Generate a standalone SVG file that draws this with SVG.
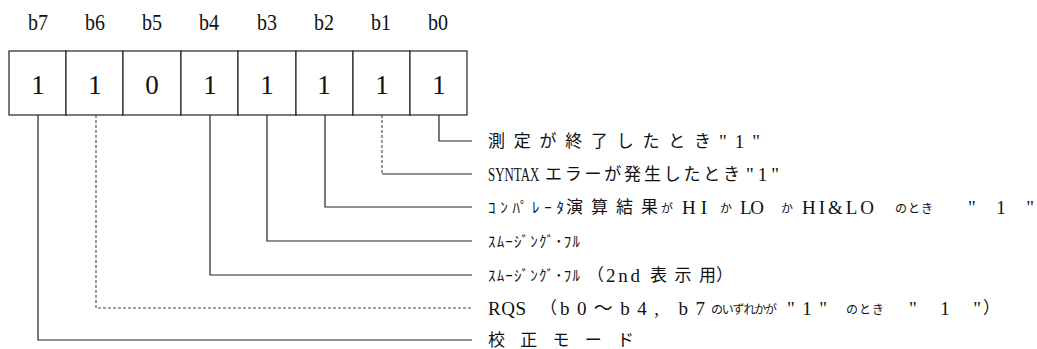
<svg xmlns="http://www.w3.org/2000/svg" width="1037" height="349" viewBox="0 0 1037 349">
<style>
.hdr{font-family:"Liberation Serif","Noto Sans CJK JP",serif;font-size:24px;fill:#111}
.val{font-family:"Liberation Serif","Noto Sans CJK JP",serif;font-size:27px;fill:#111;text-anchor:middle}
.cell{fill:#fff;stroke:#222;stroke-width:1.2}
.lbl{font-family:"Liberation Serif","Noto Sans CJK JP",serif;font-size:19px;fill:#111}
.jp{font-family:"Noto Sans CJK JP",sans-serif;font-size:17px;fill:#111}
.sm{font-family:"Noto Sans CJK JP",sans-serif;font-size:12px;fill:#111}
.hk{font-family:"Noto Sans CJK JP",sans-serif;font-size:15px;fill:#111}
.ln{fill:none;stroke:#222;stroke-width:1.2}
.dt{fill:none;stroke:#444;stroke-width:1.1;stroke-dasharray:3 2}
</style>
<g id="header">
<text class="hdr" x="28" y="30" textLength="20" lengthAdjust="spacingAndGlyphs">b7</text>
<text class="hdr" x="85" y="30" textLength="20" lengthAdjust="spacingAndGlyphs">b6</text>
<text class="hdr" x="142" y="30" textLength="20" lengthAdjust="spacingAndGlyphs">b5</text>
<text class="hdr" x="199" y="30" textLength="20" lengthAdjust="spacingAndGlyphs">b4</text>
<text class="hdr" x="257" y="30" textLength="20" lengthAdjust="spacingAndGlyphs">b3</text>
<text class="hdr" x="314" y="30" textLength="20" lengthAdjust="spacingAndGlyphs">b2</text>
<text class="hdr" x="371" y="30" textLength="20" lengthAdjust="spacingAndGlyphs">b1</text>
<text class="hdr" x="428" y="30" textLength="20" lengthAdjust="spacingAndGlyphs">b0</text>
</g>
<g id="register">
<rect class="cell" x="9" y="51" width="57" height="64"/>
<rect class="cell" x="66" y="51" width="57" height="64"/>
<rect class="cell" x="123" y="51" width="58" height="64"/>
<rect class="cell" x="181" y="51" width="57" height="64"/>
<rect class="cell" x="238" y="51" width="58" height="64"/>
<rect class="cell" x="296" y="51" width="57" height="64"/>
<rect class="cell" x="353" y="51" width="57" height="64"/>
<rect class="cell" x="410" y="51" width="57" height="64"/>
<text class="val" x="38" y="94">1</text>
<text class="val" x="95" y="94">1</text>
<text class="val" x="152" y="94">0</text>
<text class="val" x="210" y="94">1</text>
<text class="val" x="267" y="94">1</text>
<text class="val" x="324" y="94">1</text>
<text class="val" x="382" y="94">1</text>
<text class="val" x="439" y="94">1</text>
</g>
<g id="connectors">
<polyline class="ln" points="439,115 439,141 472,141"/>
<polyline class="dt" points="382,115 382,174"/>
<polyline class="ln" points="382,174 472,174"/>
<polyline class="ln" points="325,115 325,207 472,207"/>
<polyline class="ln" points="267,115 267,241 472,241"/>
<polyline class="ln" points="210,115 210,275 472,275"/>
<polyline class="dt" points="96,115 96,308 472,308"/>
<polyline class="ln" points="38,115 38,340 472,340"/>
</g>
<g id="label-b0">
<text class="jp" x="488" y="147" textLength="223" lengthAdjust="spacing">測定が終了したとき</text>
<text class="lbl" x="719" y="148" textLength="41" lengthAdjust="spacing">"1"</text>
</g>
<g id="label-b1">
<text class="lbl" transform="translate(488,181) scale(0.68,1)" x="0" y="0">SYNTAX</text>
<text class="jp" x="545" y="180" textLength="195" lengthAdjust="spacing">エラーが発生したとき</text>
<text class="lbl" x="746" y="181" textLength="33" lengthAdjust="spacing">"1"</text>
</g>
<g id="label-b2">
<text class="hk" x="488" y="213" textLength="76" lengthAdjust="spacing">ｺﾝﾊﾟﾚｰﾀ</text>
<text class="jp" x="566" y="213" textLength="92" lengthAdjust="spacing">演算結果</text>
<text class="sm" x="661" y="213">が</text>
<text class="lbl" x="682" y="214" textLength="25" lengthAdjust="spacing">HI</text>
<text class="sm" x="720" y="213">か</text>
<text class="lbl" x="740" y="214" textLength="24" lengthAdjust="spacing">LO</text>
<text class="sm" x="781" y="213">か</text>
<text class="lbl" x="802" y="214" textLength="72" lengthAdjust="spacing">HI&amp;LO</text>
<text class="sm" x="895" y="213" textLength="38" lengthAdjust="spacing">のとき</text>
<text class="lbl" x="968" y="214" textLength="66" lengthAdjust="spacing">"1"</text>
</g>
<g id="label-b3">
<text class="hk" x="488" y="247" textLength="92" lengthAdjust="spacing">ｽﾑｰｼﾞﾝｸﾞ･ﾌﾙ</text>
</g>
<g id="label-b4">
<text class="hk" x="488" y="281" textLength="92" lengthAdjust="spacing">ｽﾑｰｼﾞﾝｸﾞ･ﾌﾙ</text>
<text class="jp" x="587" y="281">（</text>
<text class="lbl" x="606" y="282" textLength="34" lengthAdjust="spacing">2nd</text>
<text class="jp" x="650" y="281" textLength="66" lengthAdjust="spacing">表示用</text>
<text class="jp" x="716" y="281">）</text>
</g>
<g id="label-b6">
<text class="lbl" x="488" y="315" textLength="38" lengthAdjust="spacing">RQS</text>
<text class="jp" x="540" y="314">（</text>
<text class="lbl" x="560" y="315" textLength="145" lengthAdjust="spacing">b0～b4, b7</text>
<text class="sm" x="711" y="314" textLength="66" lengthAdjust="spacing">のいずれかが</text>
<text class="lbl" x="787" y="315" textLength="40" lengthAdjust="spacing">"1"</text>
<text class="sm" x="846" y="314" textLength="38" lengthAdjust="spacing">のとき</text>
<text class="lbl" x="909" y="315" textLength="72" lengthAdjust="spacing">"1"</text>
<text class="jp" x="983" y="314">）</text>
</g>
<g id="label-b7">
<text class="jp" x="488" y="346" textLength="146" lengthAdjust="spacing">校正モード</text>
</g>
</svg>
